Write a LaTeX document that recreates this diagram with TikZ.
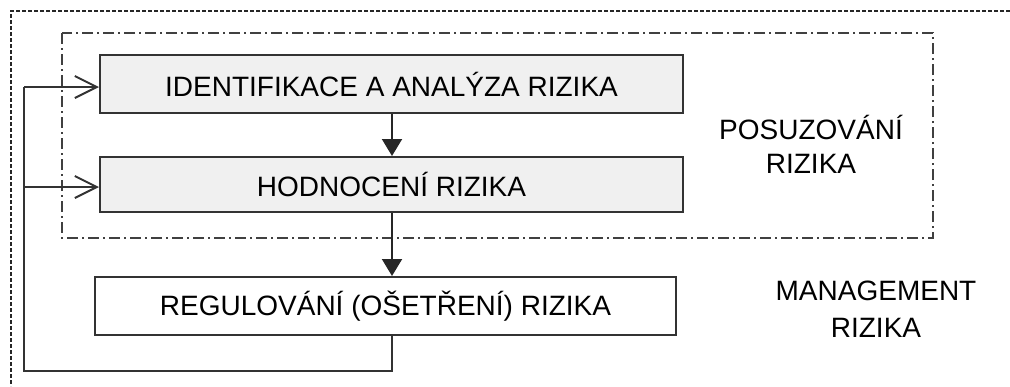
\documentclass[tikz,border=0pt]{standalone}
\usepackage{fontspec}
\setmainfont{Liberation Sans}
\usetikzlibrary{arrows.meta}
\begin{document}
\begin{tikzpicture}[x=1pt,y=-1pt,
  txt/.style={font=\fontsize{28pt}{34pt}\selectfont},
  stepbox/.style={draw=black!80,line width=2pt,inner sep=0pt,txt},
  graybox/.style={stepbox,fill=black!6},
  flow/.style={line width=2pt,draw=black!85,-{Triangle[length=17pt,width=20pt]}},
  back/.style={line width=2pt,draw=black!80,-{Straight Barb[length=22pt,width=22pt,line width=2pt]}},
  outer/.style={line width=1.4pt,draw=black!85,dash pattern=on 4pt off 2pt},
  group/.style={line width=2pt,draw=black!75,dash pattern=on 11pt off 4pt on 2pt off 4pt}]
\useasboundingbox (0,0) rectangle (1010,386);

% outer frame: only its top and left edges fall inside the picture
\draw[outer] (1010,11) -- (11,11) -- (11,386);

% group frame around the assessment steps
\draw[group] (62,33) rectangle (933,238);

% steps
\node[graybox,minimum width=583pt,minimum height=58pt] (b1) at (391.5,84) {IDENTIFIKACE A ANALÝZA RIZIKA};
\node[graybox,minimum width=583pt,minimum height=55pt] (b2) at (391.5,184.5) {HODNOCENÍ RIZIKA};
\node[stepbox,minimum width=581pt,minimum height=58pt] (b3) at (385.5,306) {REGULOVÁNÍ (OŠETŘENÍ) RIZIKA};

% side labels
\node[txt,align=center] (posuz) at (811,144) {POSUZOVÁNÍ\\RIZIKA};
\node[txt,align=center,font=\fontsize{28pt}{36.5pt}\selectfont] (mgmt) at (876,309) {MANAGEMENT\\RIZIKA};

% main flow
\draw[flow] (b1.south -| 392,0) -- (b2.north -| 392,0);
\draw[flow] (b2.south -| 392,0) -- (b3.north -| 392,0);

% feedback loop
\coordinate (lb) at (392,371);
\coordinate (ll) at (24,371);
\coordinate (lt) at (24,87);
\coordinate (lm) at (24,187);
\draw[line width=2pt,draw=black!80] (b3.south -| 392,0) -- (lb) -- (ll) -- (lt);
\draw[back] (lt) -- (b1.west |- lt);
\draw[back] (lm) -- (b2.west |- lm);
\end{tikzpicture}
\end{document}
